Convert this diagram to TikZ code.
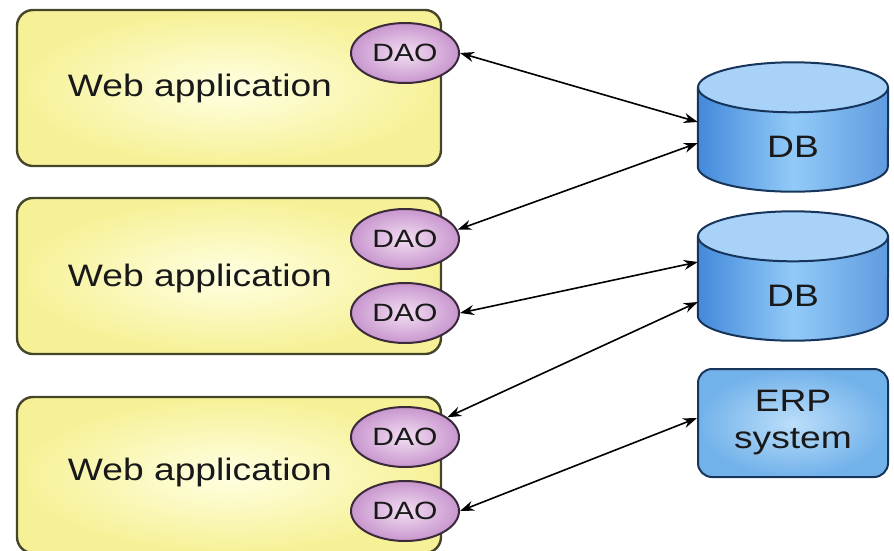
\documentclass[tikz,border=0pt]{standalone}
\usepackage{fontspec}
\setmainfont[FakeStretch=1.2]{Liberation Sans}
\usetikzlibrary{shapes.geometric,arrows.meta}
\definecolor{appin}{HTML}{FFFFE2}
\definecolor{appout}{HTML}{F6F196}
\definecolor{appline}{HTML}{45452A}
\definecolor{daoin}{HTML}{F2DEF2}
\definecolor{daoout}{HTML}{C896CE}
\definecolor{daoline}{HTML}{3A2A3A}
\definecolor{dbdark}{HTML}{4389DA}
\definecolor{dblight}{HTML}{92CAF8}
\definecolor{dbtop}{HTML}{A8D2F7}
\definecolor{dbline}{HTML}{17345A}
\definecolor{erpin}{HTML}{BCDEFA}
\definecolor{erpout}{HTML}{72B2EA}
% cylinder drawn round a named box node
\newcommand{\dbcylinder}[1]{%
  \shade[left color=dbdark, right color=dbdark!85, middle color=dblight]
    ([yshift=-25pt]#1.north west) -- ([yshift=25pt]#1.south west)
    arc[start angle=180, end angle=360, x radius=95pt, y radius=25pt]
    -- ([yshift=-25pt]#1.north east) -- cycle;
  \draw[dbline, line width=2pt]
    ([yshift=-25pt]#1.north west) -- ([yshift=25pt]#1.south west)
    arc[start angle=180, end angle=360, x radius=95pt, y radius=25pt]
    -- ([yshift=-25pt]#1.north east);
  \filldraw[fill=dbtop, draw=dbline, line width=2pt]
    ([yshift=-25pt]#1.north) ellipse[x radius=95pt, y radius=25pt];
}
\begin{document}
\begin{tikzpicture}[x=1pt, y=-1pt]
  \tikzstyle{appbox}=[rectangle, rounded corners=16pt, draw=appline, line width=2.4pt,
                      inner color=appin, outer color=appout,
                      minimum width=424pt, minimum height=156pt]
  \tikzstyle{apptext}=[font=\fontsize{31}{36}\selectfont, text=black!90]
  \tikzstyle{dao}=[ellipse, draw=daoline, line width=2pt, inner color=daoin, outer color=daoout,
                   minimum width=108pt, minimum height=60pt, inner sep=0pt,
                   font=\fontsize{25}{30}\selectfont, text=black!90]
  \tikzstyle{db}=[rectangle, minimum width=190pt, minimum height=129pt, inner sep=0pt]
  \tikzstyle{dbtext}=[font=\fontsize{31}{36}\selectfont, text=black!90, yshift=-20pt]
  \tikzstyle{erp}=[rectangle, rounded corners=14pt, draw=dbline, line width=2pt,
                   inner color=erpin, outer color=erpout, align=center,
                   minimum width=190pt, minimum height=108pt,
                   font=\fontsize{31}{37}\selectfont, text=black!90]
  \tikzstyle{conn}=[{Stealth[length=14pt,width=10pt]}-{Stealth[length=14pt,width=10pt]}, line width=1.6pt]
  \useasboundingbox (0,0) rectangle (894,550);
  % applications
  \node[appbox] (app1) at (229,88) {};
  \node[appbox] (app2) at (229,276) {};
  \node[appbox] (app3) at (229,475) {};
  \node[apptext] (app1txt) at (200,88) {Web application};
  \node[apptext] (app2txt) at (200,278) {Web application};
  \node[apptext] (app3txt) at (200,472) {Web application};
  % data access objects
  \node[dao] (dao1)  at (405,53)  {DAO};
  \node[dao] (dao2a) at (405,239) {DAO};
  \node[dao] (dao2b) at (405,313) {DAO};
  \node[dao] (dao3a) at (405,437) {DAO};
  \node[dao] (dao3b) at (405,511) {DAO};
  % back ends
  \node[db] (db1) at (793,127) {};
  \node[db] (db2) at (793,276) {};
  \dbcylinder{db1}
  \dbcylinder{db2}
  \node[dbtext] (db1txt) at (db1) {DB};
  \node[dbtext] (db2txt) at (db2) {DB};
  \node[erp] (erp) at (793,423) {ERP\\system};
  \draw[conn] (dao1.east) -- ([yshift=5pt]db1.west);
  \draw[conn] ([yshift=-16pt]db1.west) -- (dao2a.10);
  \draw[conn] ([yshift=14pt]db2.west) -- (dao2b.east);
  \draw[conn] ([yshift=-26pt]db2.west) -- (dao3a.25);
  \draw[conn] ([yshift=5pt]erp.west) -- (dao3b.east);
\end{tikzpicture}
\end{document}
